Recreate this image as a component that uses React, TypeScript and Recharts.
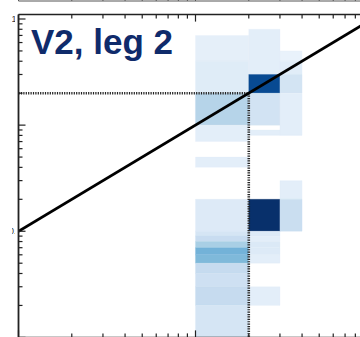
import React from 'react';
import { ComposedChart, Line, XAxis, YAxis, ReferenceArea, ReferenceLine } from 'recharts';

// ---------- data ----------
const panelTitle = 'V2, leg 2';

const xTicks = [0.1, 0.2, 0.3, 0.4, 0.5, 0.6, 0.7, 0.8, 0.9, 1, 2, 3, 4, 5, 6, 7, 8, 9, 10];
const yTicks = [
  0.01, 0.02, 0.03, 0.04, 0.05, 0.06, 0.07, 0.08, 0.09,
  0.1, 0.2, 0.3, 0.4, 0.5, 0.6, 0.7, 0.8, 0.9,
  1, 2, 3, 4, 5, 6, 7, 8, 9, 10,
];
// only the right edge of these labels falls inside the cropped panel
const yMajorLabels = ['0.1', '1', '10'];

const xDomain = [0.1, 10];
const yDomain = [0.01, 11];

// 1:1 line
const diagX = [0.1, 10];
const diagY = [0.1, 10];

// threshold marked by dotted lines
const threshold = 2;

// heat-map cells (bin edges in data units) and their relative density 0..1
const cellX0 = [
  1, 1, 1, 1, 1, 1, 1, 1, 1, 1, 1, 1, 1, 1, 1,
  2, 2, 2, 2, 2, 2, 2, 2, 2, 2, 2,
  3, 3, 3, 3, 3, 3,
];
const cellX1 = [
  2, 2, 2, 2, 2, 2, 2, 2, 2, 2, 2, 2, 2, 2, 2,
  3, 3, 3, 3, 3, 3, 3, 3, 3, 3, 3,
  4, 4, 4, 4, 4, 4,
];
const cellY0 = [
  4, 2, 1, 0.7, 0.4, 0.1, 0.09, 0.08, 0.07, 0.06, 0.05, 0.04, 0.03, 0.02, 0.01,
  3, 2, 1, 0.8, 0.1, 0.09, 0.08, 0.07, 0.06, 0.05, 0.02,
  4, 3, 2, 0.8, 0.2, 0.1,
];
const cellY1 = [
  7, 4, 2, 1, 0.5, 0.2, 0.1, 0.09, 0.08, 0.07, 0.06, 0.05, 0.04, 0.03, 0.02,
  8, 3, 2, 0.9, 0.2, 0.1, 0.09, 0.08, 0.07, 0.06, 0.03,
  5, 4, 3, 2, 0.3, 0.2,
];
const cellDensity = [
  0.09, 0.12, 0.3, 0.1, 0.1, 0.13, 0.17, 0.24, 0.34, 0.48, 0.45, 0.25, 0.21, 0.25, 0.17,
  0.1, 0.9, 0.19, 0.1, 1.0, 0.13, 0.1, 0.14, 0.13, 0.1, 0.1,
  0.07, 0.11, 0.18, 0.1, 0.1, 0.23,
];

// ---------- styling ----------
const BLUES = ['#f7fbff', '#deebf7', '#c6dbef', '#9ecae1', '#6baed6', '#4292c6', '#2171b5', '#08519c', '#08306b'];
const AXIS = '#222';

function hexToRgb(h: string) {
  const n = parseInt(h.slice(1), 16);
  return [(n >> 16) & 255, (n >> 8) & 255, n & 255];
}
function blues(t: number) {
  const p = Math.max(0, Math.min(1, t)) * (BLUES.length - 1);
  const i = Math.min(BLUES.length - 2, Math.floor(p));
  const f = p - i;
  const a = hexToRgb(BLUES[i]);
  const b = hexToRgb(BLUES[i + 1]);
  const c = a.map((v, k) => Math.round(v + (b[k] - v) * f));
  return `rgb(${c[0]},${c[1]},${c[2]})`;
}

const isMajor = (v: number) => Math.abs(Math.log10(v) - Math.round(Math.log10(v))) < 1e-6;
const findLabel = (v: number, list: string[]) => list.find((s) => Math.abs(parseFloat(s) - v) < 1e-9);

function BottomTick(props: any) {
  const { x, y, payload } = props;
  const major = isMajor(payload.value);
  return <line x1={x} y1={y} x2={x} y2={y - (major ? 7 : 4)} stroke={AXIS} strokeWidth={1.2} />;
}

function TopTick(props: any) {
  const { x, y, payload } = props;
  const major = isMajor(payload.value);
  return <line x1={x} y1={y} x2={x} y2={y + (major ? 7 : 4)} stroke={AXIS} strokeWidth={1.2} />;
}

function GhostTick(props: any) {
  const { x, y, payload } = props;
  const major = isMajor(payload.value);
  return <line x1={x} y1={y} x2={x} y2={y - (major ? 7 : 4)} stroke="#555" strokeWidth={1} />;
}

function LeftTick(props: any) {
  const { x, y, payload } = props;
  const major = isMajor(payload.value);
  const label = major ? findLabel(payload.value, yMajorLabels) : undefined;
  return (
    <g>
      <line x1={x} y1={y} x2={x + (major ? 7 : 4)} y2={y} stroke={AXIS} strokeWidth={1.2} />
      {label && (
        <svg x={x - 6.5} y={y - 8} width={3} height={14} overflow="hidden">
          <text x={9.5} y={11} textAnchor="end" fontSize={9} fontFamily="Liberation Sans, Arial" fill="#333">
            {label}
          </text>
        </svg>
      )}
    </g>
  );
}

const diagData = diagX.map((x, i) => ({ x, y: diagY[i] }));

const W = 382.5;
const MARGIN = { top: 13.6, right: 10, bottom: 29, left: 17.5 };
const H = 337.4 + 30;

export default function App() {
  return (
    <div
      style={{
        position: 'fixed',
        left: 0,
        top: 0,
        width: 360,
        height: 337,
        overflow: 'hidden',
        background: '#fff',
      }}
    >
      {/* bottom axis of the panel above */}
      <div style={{ position: 'absolute', left: 0, top: -38.5 }}>
        <ComposedChart width={W} height={40} data={diagData} margin={{ top: 0, right: 10, bottom: 0, left: 17.5 }}>
          <XAxis
            dataKey="x"
            type="number"
            scale="log"
            domain={xDomain}
            allowDataOverflow
            ticks={xTicks}
            interval={0}
            height={1}
            tickSize={0}
            tickMargin={0}
            tickLine={false}
            tick={<GhostTick />}
            axisLine={{ stroke: '#555', strokeWidth: 1 }}
          />
          <YAxis width={1} type="number" scale="log" domain={yDomain} allowDataOverflow tick={false} axisLine={false} tickLine={false} />
        </ComposedChart>
      </div>

      <div style={{ position: 'absolute', left: 0, top: 0 }}>
        <ComposedChart width={W} height={H} data={diagData} margin={MARGIN}>
          <XAxis
            dataKey="x"
            type="number"
            scale="log"
            domain={xDomain}
            allowDataOverflow
            ticks={xTicks}
            interval={0}
            height={1}
            tickSize={0}
            tickMargin={0}
            tickLine={false}
            tick={<BottomTick />}
            axisLine={{ stroke: AXIS, strokeWidth: 1.5 }}
          />
          <XAxis
            xAxisId="top"
            orientation="top"
            dataKey="x"
            type="number"
            scale="log"
            domain={xDomain}
            allowDataOverflow
            ticks={xTicks}
            interval={0}
            height={1}
            tickSize={0}
            tickMargin={0}
            tickLine={false}
            tick={<TopTick />}
            axisLine={{ stroke: AXIS, strokeWidth: 1.5 }}
          />
          <YAxis
            type="number"
            scale="log"
            domain={yDomain}
            allowDataOverflow
            ticks={yTicks}
            interval={0}
            width={1}
            tickSize={0}
            tickMargin={0}
            tickLine={false}
            tick={<LeftTick />}
            axisLine={{ stroke: AXIS, strokeWidth: 1.8 }}
          />

          {cellX0.map((x0, i) => (
            <ReferenceArea
              key={`c${i}`}
              x1={x0}
              x2={cellX1[i]}
              y1={cellY0[i]}
              y2={cellY1[i]}
              fill={blues(cellDensity[i])}
              fillOpacity={1}
              stroke={blues(cellDensity[i])}
              strokeWidth={0.3}
              ifOverflow="visible"
            />
          ))}

          <ReferenceLine
            segment={[
              { x: xDomain[0], y: threshold },
              { x: threshold, y: threshold },
            ]}
            stroke={AXIS}
            strokeWidth={2.6}
            strokeDasharray="1.2 1.2"
            ifOverflow="visible"
          />
          <ReferenceLine
            segment={[
              { x: threshold, y: threshold },
              { x: threshold, y: yDomain[0] },
            ]}
            stroke={AXIS}
            strokeWidth={2.6}
            strokeDasharray="1.2 1.2"
            ifOverflow="visible"
          />

          <Line
            dataKey="y"
            type="linear"
            stroke="#000"
            strokeWidth={2.8}
            dot={false}
            activeDot={false}
            isAnimationActive={false}
          />
        </ComposedChart>
      </div>

      <svg
        width={360}
        height={337}
        style={{ position: 'absolute', left: 0, top: 0, pointerEvents: 'none' }}
      >
        <text
          x={31}
          y={54}
          fontSize={35}
          fontWeight="bold"
          fontFamily="Liberation Sans, Arial, sans-serif"
          fill="#0f2b6b"
        >
          {panelTitle}
        </text>
      </svg>
    </div>
  );
}
